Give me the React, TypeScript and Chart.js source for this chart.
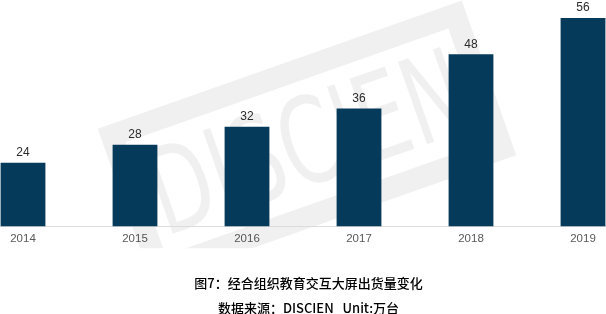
import { useEffect, useRef } from "react";
import { Chart, registerables } from "chart.js";

Chart.register(...registerables);

// Shipments of interactive education displays, in 万台
const years = ["2014", "2015", "2016", "2017", "2018", "2019"];
const shipments = [24, 28, 32, 36, 48, 56];
const axisMin = 10;
const axisMax = 60;
const captionLines = ["图7：经合组织教育交互大屏出货量变化", "数据来源：DISCIEN   Unit:万台"];
const watermarkText = "DISCIEN";

const barColor = "#063a5b";
const latin = "'Liberation Sans', Arial, sans-serif";
const cjk = "'Noto Sans CJK SC', sans-serif";

// Faint tilted brand stamp behind the bars
const watermark = {
  id: "watermark",
  beforeDatasetsDraw(chart: Chart) {
    const { ctx } = chart;
    ctx.save();
    ctx.beginPath();
    ctx.rect(0, 0, chart.width, chart.chartArea.bottom + 22);
    ctx.clip();
    ctx.translate(307, 142);
    ctx.rotate((-19.4 * Math.PI) / 180);
    const tint = "rgba(0,0,0,0.06)";
    ctx.strokeStyle = tint;
    ctx.fillStyle = tint;
    ctx.lineWidth = 22;
    ctx.strokeRect(-182, -71, 364, 142);
    ctx.font = `120px 'DejaVu Sans', sans-serif`;
    ctx.textAlign = "center";
    ctx.textBaseline = "alphabetic";
    ctx.fillText(watermarkText, 0, 42, 330);
    ctx.restore();
  },
};

// Thin rule under the bars across the full width
const baseline = {
  id: "baseline",
  beforeDatasetsDraw(chart: Chart) {
    const { ctx, chartArea, width } = chart;
    ctx.save();
    ctx.strokeStyle = "#dcdcdc";
    ctx.lineWidth = 1;
    ctx.beginPath();
    ctx.moveTo(0, Math.round(chartArea.bottom) + 0.5);
    ctx.lineTo(width, Math.round(chartArea.bottom) + 0.5);
    ctx.stroke();
    ctx.restore();
  },
};

// Value printed above each bar
const valueLabels = {
  id: "valueLabels",
  afterDatasetsDraw(chart: Chart) {
    const { ctx } = chart;
    const meta = chart.getDatasetMeta(0);
    const values = chart.data.datasets[0].data as number[];
    ctx.save();
    ctx.font = `12px ${latin}`;
    ctx.fillStyle = "#2b2b2b";
    ctx.textAlign = "center";
    ctx.textBaseline = "middle";
    meta.data.forEach((bar: any, i: number) => {
      ctx.fillText(String(values[i]), bar.x, bar.y - 10);
    });
    ctx.restore();
  },
};

// Figure caption and source line under the axis
const caption = {
  id: "caption",
  afterDraw(chart: Chart) {
    const { ctx, width, height } = chart;
    ctx.save();
    ctx.font = `500 13px ${cjk}`;
    ctx.fillStyle = "#000000";
    ctx.textAlign = "center";
    ctx.textBaseline = "middle";
    const cx = width / 2 + 5.5;
    ctx.fillText(captionLines[0], cx, height - 31);
    ctx.fillText(captionLines[1], cx, height - 6);
    ctx.restore();
  },
};

export default function App() {
  const canvasRef = useRef<HTMLCanvasElement | null>(null);

  useEffect(() => {
    document.body.style.margin = "0";
    const canvas = canvasRef.current;
    if (!canvas) return;
    const chart = new Chart(canvas, {
      type: "bar",
      data: {
        labels: years,
        datasets: [
          {
            data: shipments,
            base: axisMin,
            backgroundColor: barColor,
            borderWidth: 0,
            categoryPercentage: 0.8,
            barPercentage: 0.5,
            clip: false as any,
          } as any,
        ],
      },
      options: {
        animation: false,
        responsive: false,
        layout: { padding: { left: 23, right: 23, top: 0, bottom: 62 } },
        plugins: {
          legend: { display: false },
          tooltip: { enabled: false },
          title: { display: false },
        },
        scales: {
          x: {
            offset: false,
            grid: { display: false, drawTicks: false },
            border: { display: false },
            ticks: {
              color: "#595959",
              font: { family: latin, size: 11.5 },
              padding: 6,
              maxRotation: 0,
              autoSkip: false,
            },
          },
          y: {
            display: false,
            min: axisMin,
            max: axisMax,
          },
        },
      },
      plugins: [watermark, baseline, valueLabels, caption],
    });
    return () => chart.destroy();
  }, []);

  return (
    <div style={{ width: 606, height: 314, background: "#ffffff" }}>
      <canvas ref={canvasRef} width={606} height={314} style={{ display: "block" }} />
    </div>
  );
}
